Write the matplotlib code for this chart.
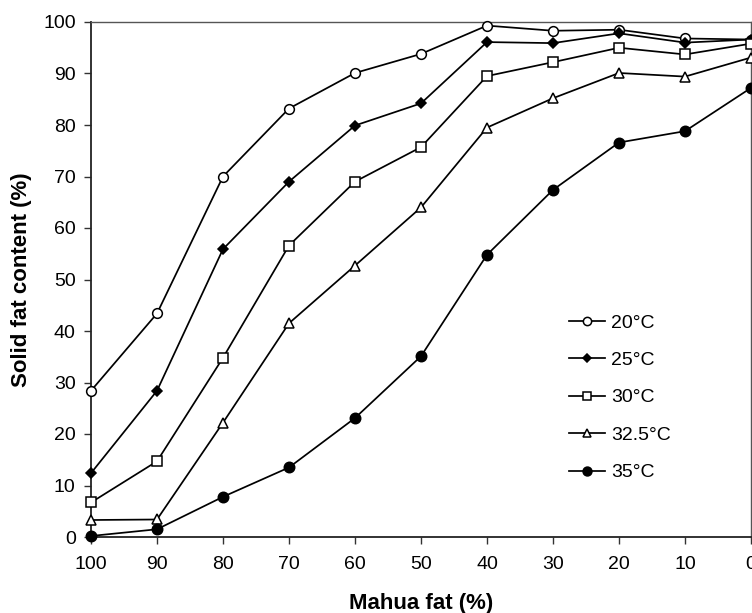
import numpy as np
import matplotlib
matplotlib.use('Agg')
import matplotlib.pyplot as plt

plt.rcParams['font.family'] = ['Liberation Sans', 'DejaVu Sans']

# %% data: solid fat content of mahua fat blends
mahua = [100, 90, 80, 70, 60, 50, 40, 30, 20, 10, 0]
sfc_20 = [28.4, 43.4, 70.0, 83.2, 90.1, 93.8, 99.3, 98.3, 98.5, 96.8, 96.6]
sfc_25 = [12.4, 28.4, 55.9, 69.0, 79.9, 84.2, 96.1, 95.9, 97.8, 96.0, 96.6]
sfc_30 = [6.7, 14.7, 34.8, 56.6, 69.0, 75.7, 89.5, 92.2, 95.0, 93.7, 95.8]
sfc_325 = [3.3, 3.4, 22.2, 41.5, 52.7, 64.0, 79.5, 85.2, 90.1, 89.4, 93.1]
sfc_35 = [0.2, 1.5, 7.8, 13.5, 23.1, 35.1, 54.8, 67.4, 76.6, 78.8, 87.2]

labels = ['20°C', '25°C', '30°C', '32.5°C', '35°C']
series = [sfc_20, sfc_25, sfc_30, sfc_325, sfc_35]

# marker, facecolor, size
styles = [('o', 'white', 7.0), ('D', 'black', 5.0), ('s', 'white', 7.0),
          ('^', 'white', 7.0), ('o', 'black', 7.5)]

# %% plot
fig = plt.figure(figsize=(7.52, 6.13), dpi=100)
ax = fig.add_axes([91 / 752, 1 - 537 / 613, 660 / 752, 515 / 613])

for vals, lab, (mk, fc, ms) in zip(series, labels, styles):
    ax.plot(mahua, vals, color='black', lw=1.25, marker=mk, ms=ms,
            mfc=fc, mec='black', mew=1.1, label=lab, clip_on=False, zorder=3)

ax.set_xlim(100, 0)
ax.set_ylim(0, 100)
ax.set_xticks(np.arange(100, -1, -10))
ax.set_yticks(np.arange(0, 101, 10))
ax.tick_params(direction='out', length=5, width=1, labelsize=14, color='#333333')
ax.tick_params(axis='x', pad=9)
ax.tick_params(axis='y', pad=6)

for side in ['left', 'bottom']:
    ax.spines[side].set_linewidth(1.3)
    ax.spines[side].set_color('#222222')
for side in ['top', 'right']:
    ax.spines[side].set_linewidth(1.0)
    ax.spines[side].set_color('#555555')

ax.set_xlabel('Mahua fat (%)', fontsize=16, fontweight='bold', labelpad=14)
ax.set_ylabel('Solid fat content (%)', fontsize=16, fontweight='bold', labelpad=8)

leg = ax.legend(loc='upper left', bbox_to_anchor=(0.697, 0.467), frameon=False,
                fontsize=14, handlelength=1.9, handletextpad=0.3, labelspacing=1.02,
                markerscale=0.85)

plt.savefig('out.png', dpi=100)
